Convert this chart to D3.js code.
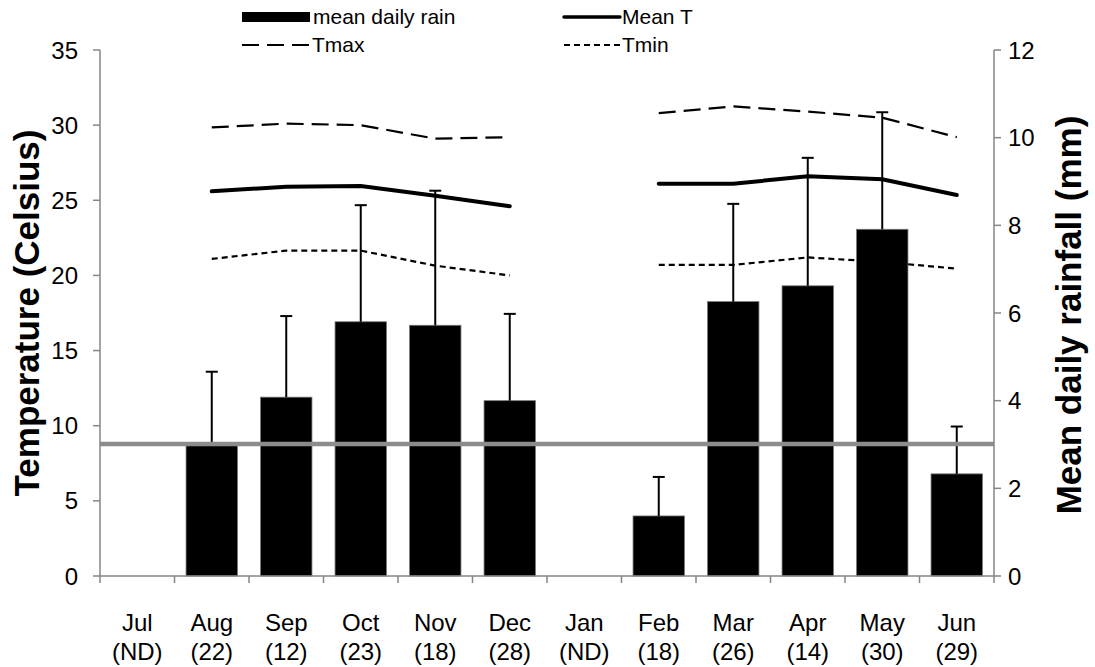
<!DOCTYPE html>
<html>
<head>
<meta charset="utf-8">
<script src="https://cdn.jsdelivr.net/npm/d3@7"></script>
<style>
  body { margin: 0; background: #fff; }
  svg { font-family: "Liberation Sans", Arial, sans-serif; }
</style>
</head>
<body>
<div id="chart"></div>
<script>
const width = 1095;
const height = 667;

// chart data
const months = ['Jul', 'Aug', 'Sep', 'Oct', 'Nov', 'Dec', 'Jan', 'Feb', 'Mar', 'Apr', 'May', 'Jun'];
const nDays = ['ND', '22', '12', '23', '18', '28', 'ND', '18', '26', '14', '30', '29'];
const rain = [null, 2.98, 4.08, 5.80, 5.72, 4.00, null, 1.37, 6.26, 6.62, 7.91, 2.33];
const rainSd = [null, 1.68, 1.85, 2.66, 3.07, 1.98, null, 0.89, 2.23, 2.92, 2.67, 1.08];
const meanT = [null, 25.6, 25.9, 25.95, 25.3, 24.6, null, 26.1, 26.1, 26.6, 26.4, 25.35];
const tMax = [null, 29.85, 30.1, 30.0, 29.1, 29.2, null, 30.8, 31.25, 30.9, 30.5, 29.2];
const tMin = [null, 21.1, 21.65, 21.65, 20.65, 20.0, null, 20.7, 20.7, 21.2, 20.9, 20.45];
const rainMean = 3.01; // grey reference line (right axis)
const tempTicks = [0, 5, 10, 15, 20, 25, 30, 35];
const rainTicks = [0, 2, 4, 6, 8, 10, 12];

const margin = { top: 50, right: 101, bottom: 91, left: 100 };
const axisColor = '#868686';

const svg = d3.select('#chart').append('svg')
  .attr('width', width).attr('height', height);

const xScale = d3.scaleBand()
  .domain(months)
  .range([margin.left, width - margin.right])
  .paddingInner(0.31)
  .paddingOuter(0.155);
const yTemp = d3.scaleLinear().domain([0, 35]).range([height - margin.bottom, margin.top]);
const yRain = d3.scaleLinear().domain([0, 12]).range([height - margin.bottom, margin.top]);

const x0 = margin.left, x1 = width - margin.right, yBase = height - margin.bottom;

// rain bars
const rows = months.map((m, i) => ({ m, rain: rain[i], sd: rainSd[i] })).filter(d => d.rain != null);

svg.append('g').selectAll('rect')
  .data(rows)
  .join('rect')
  .attr('x', d => xScale(d.m))
  .attr('y', d => yRain(d.rain))
  .attr('width', xScale.bandwidth())
  .attr('height', d => yBase - yRain(d.rain))
  .attr('fill', '#000')
  .attr('stroke', '#777')
  .attr('stroke-width', 0.8);

// error bars (upper only)
const err = svg.append('g').attr('stroke', '#000').attr('stroke-width', 2);
err.selectAll('line.v')
  .data(rows)
  .join('line')
  .attr('class', 'v')
  .attr('x1', d => xScale(d.m) + xScale.bandwidth() / 2)
  .attr('x2', d => xScale(d.m) + xScale.bandwidth() / 2)
  .attr('y1', d => yRain(d.rain))
  .attr('y2', d => yRain(d.rain + d.sd));
err.selectAll('line.cap')
  .data(rows)
  .join('line')
  .attr('class', 'cap')
  .attr('x1', d => xScale(d.m) + xScale.bandwidth() / 2 - 6)
  .attr('x2', d => xScale(d.m) + xScale.bandwidth() / 2 + 6)
  .attr('y1', d => yRain(d.rain + d.sd))
  .attr('y2', d => yRain(d.rain + d.sd));

// grey mean rainfall line
svg.append('line')
  .attr('x1', x0).attr('x2', x1)
  .attr('y1', yRain(rainMean)).attr('y2', yRain(rainMean))
  .attr('stroke', '#8c8c8c')
  .attr('stroke-width', 4.5);

// temperature lines
const cx = (i) => xScale(months[i]) + xScale.bandwidth() / 2;
const line = d3.line()
  .defined(d => d[1] != null)
  .x(d => cx(d[0]))
  .y(d => yTemp(d[1]));

function drawLine(values, w, dash) {
  svg.append('path')
    .datum(values.map((v, i) => [i, v]))
    .attr('d', line)
    .attr('fill', 'none')
    .attr('stroke', '#000')
    .attr('stroke-width', w)
    .attr('stroke-linecap', dash ? 'butt' : 'round')
    .attr('stroke-dasharray', dash);
}
drawLine(tMax, 2.2, '17,8');
drawLine(tMin, 2.2, '6,4');
drawLine(meanT, 4, null);

// axes
const axes = svg.append('g').attr('stroke', axisColor).attr('stroke-width', 1.5);
axes.append('line').attr('x1', x0).attr('x2', x0).attr('y1', margin.top).attr('y2', yBase);
axes.append('line').attr('x1', x1).attr('x2', x1).attr('y1', margin.top).attr('y2', yBase);
axes.append('line').attr('x1', x0).attr('x2', x1).attr('y1', yBase).attr('y2', yBase);

axes.selectAll('line.lt')
  .data(tempTicks)
  .join('line')
  .attr('x1', x0 - 7).attr('x2', x0)
  .attr('y1', d => yTemp(d)).attr('y2', d => yTemp(d));
axes.selectAll('line.rt')
  .data(rainTicks)
  .join('line')
  .attr('x1', x1).attr('x2', x1 + 7)
  .attr('y1', d => yRain(d)).attr('y2', d => yRain(d));
const bounds = months.map(m => xScale(m) - xScale.step() * xScale.paddingInner() / 2).concat([x1]);
axes.selectAll('line.xt')
  .data(bounds)
  .join('line')
  .attr('x1', d => d).attr('x2', d => d)
  .attr('y1', yBase).attr('y2', yBase + 7);

// tick labels
svg.append('g').selectAll('text')
  .data(tempTicks)
  .join('text')
  .attr('x', x0 - 22)
  .attr('y', d => yTemp(d))
  .attr('dy', '0.36em')
  .attr('text-anchor', 'end')
  .attr('font-size', 24)
  .text(d => d);

svg.append('g').selectAll('text')
  .data(rainTicks)
  .join('text')
  .attr('x', x1 + 14)
  .attr('y', d => yRain(d))
  .attr('dy', '0.36em')
  .attr('text-anchor', 'start')
  .attr('font-size', 24)
  .text(d => d);

const xl = svg.append('g').attr('font-size', 24).attr('text-anchor', 'middle');
xl.selectAll('text.m')
  .data(months)
  .join('text')
  .attr('x', d => xScale(d) + xScale.bandwidth() / 2)
  .attr('y', 631)
  .text(d => d);
xl.selectAll('text.n')
  .data(nDays)
  .join('text')
  .attr('x', (d, i) => cx(i))
  .attr('y', 660)
  .text(d => `(${d})`);

// axis titles
svg.append('text')
  .attr('transform', `translate(39, ${(margin.top + yBase) / 2}) rotate(-90)`)
  .attr('text-anchor', 'middle')
  .attr('font-size', 35)
  .attr('font-weight', 'bold')
  .text('Temperature (Celsius)');
svg.append('text')
  .attr('transform', `translate(1081, ${(margin.top + yBase) / 2 + 2}) rotate(-90)`)
  .attr('text-anchor', 'middle')
  .attr('font-size', 35)
  .attr('font-weight', 'bold')
  .text('Mean daily rainfall (mm)');

// legend
const lg = svg.append('g').attr('font-size', 21);
lg.append('rect').attr('x', 242).attr('y', 12).attr('width', 68).attr('height', 10).attr('fill', '#000');
lg.append('text').attr('x', 313).attr('y', 24).text('mean daily rain');
lg.append('line').attr('x1', 564).attr('x2', 620).attr('y1', 17).attr('y2', 17)
  .attr('stroke', '#000').attr('stroke-width', 3.5).attr('stroke-linecap', 'round');
lg.append('text').attr('x', 622).attr('y', 24).text('Mean T');
lg.append('line').attr('x1', 242).attr('x2', 310).attr('y1', 45).attr('y2', 45)
  .attr('stroke', '#000').attr('stroke-width', 2).attr('stroke-dasharray', '17,8');
lg.append('text').attr('x', 312).attr('y', 52).text('Tmax');
lg.append('line').attr('x1', 564).attr('x2', 620).attr('y1', 45).attr('y2', 45)
  .attr('stroke', '#000').attr('stroke-width', 2).attr('stroke-dasharray', '6,4');
lg.append('text').attr('x', 622).attr('y', 52).text('Tmin');
</script>
</body>
</html>
